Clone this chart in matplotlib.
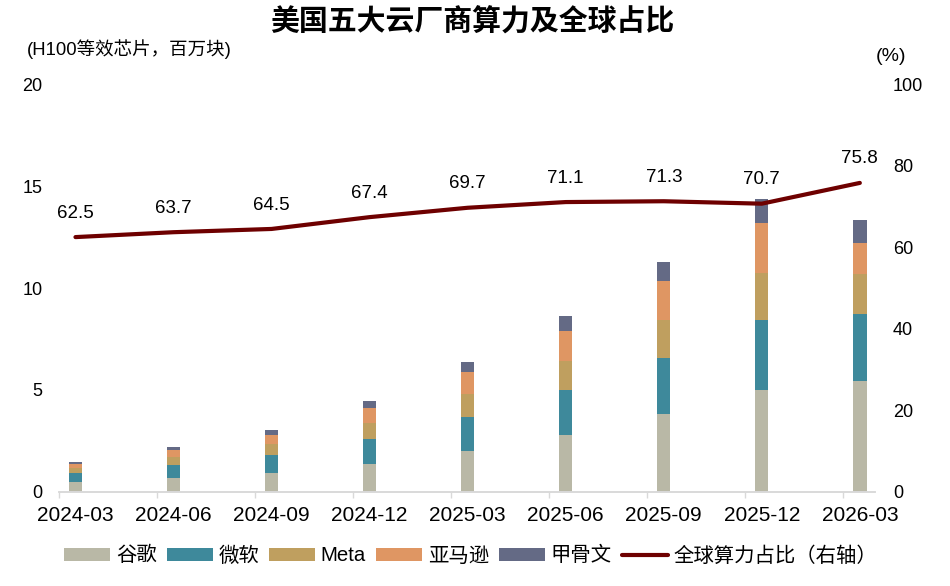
import matplotlib
matplotlib.use("Agg")
import matplotlib.pyplot as plt
import numpy as np

plt.rcParams['font.family'] = ['Liberation Sans', 'Noto Sans CJK SC']

# 数据（百万块 H100 等效芯片）
periods = ["2024-03", "2024-06", "2024-09", "2024-12", "2025-03",
           "2025-06", "2025-09", "2025-12", "2026-03"]
google = [0.48, 0.67, 0.94, 1.36, 1.99, 2.79, 3.81, 5.00, 5.44]
microsoft = [0.44, 0.64, 0.87, 1.23, 1.68, 2.18, 2.77, 3.41, 3.30]
meta = [0.25, 0.40, 0.54, 0.77, 1.12, 1.44, 1.83, 2.33, 1.97]
amazon = [0.19, 0.33, 0.44, 0.77, 1.11, 1.49, 1.95, 2.46, 1.51]
oracle = [0.12, 0.14, 0.24, 0.33, 0.49, 0.71, 0.94, 1.15, 1.11]
share = [62.5, 63.7, 64.5, 67.4, 69.7, 71.1, 71.3, 70.7, 75.8]

series_names = ["谷歌", "微软", "Meta", "亚马逊", "甲骨文"]
series_colors = ["#B9B8A6", "#3E899B", "#BF9F5F", "#DF9663", "#646A85"]
line_color = "#6E0000"


def make_chart():
    fig = plt.figure(figsize=(9.5, 5.86), dpi=100)
    ax = fig.add_axes([0.0621, 0.1609, 0.859, 0.6952])
    ax2 = ax.twinx()

    x = np.arange(len(periods))
    bottom = np.zeros(len(periods))
    handles = []
    for name, vals, col in zip(series_names,
                               [google, microsoft, meta, amazon, oracle],
                               series_colors):
        b = ax.bar(x, vals, width=0.136, bottom=bottom, color=col, label=name)
        bottom += np.array(vals)
        handles.append(b)

    ln, = ax2.plot(x, share, color=line_color, lw=3, solid_capstyle='round',
                   label="全球算力占比（右轴）")
    handles.append(ln)
    for xi, v in zip(x, share):
        ax2.annotate(f"{v:.1f}", (xi, v), xytext=(0, 14), textcoords='offset points',
                     ha='center', va='baseline', fontsize=13.5)

    ax.set_xlim(-0.163, 8.155)
    ax.set_ylim(0, 20)
    ax2.set_ylim(0, 100)
    ax.set_yticks([0, 5, 10, 15, 20])
    ax2.set_yticks([0, 20, 40, 60, 80, 100])

    ax.set_xticks(x)
    ax.set_xticklabels(periods, fontsize=15)
    ax.set_xticks(x - 0.168, minor=True)
    ax.tick_params(axis='x', which='major', length=0, pad=10)
    ax.tick_params(axis='x', which='minor', length=4.5, color="#D9D9D9", width=1)
    ax.tick_params(axis='y', length=0, pad=12, labelsize=13)
    ax2.tick_params(axis='y', length=0, pad=13, labelsize=13)

    for a in (ax, ax2):
        for s in ['top', 'left', 'right']:
            a.spines[s].set_visible(False)
        a.spines['bottom'].set_color("#D9D9D9")
        a.spines['bottom'].set_linewidth(1.2)

    fig.text(0.497, 0.962, "美国五大云厂商算力及全球占比", ha='center', va='center',
             fontsize=20.8, fontweight='bold')
    fig.text(0.028, 0.9155, "(H100等效芯片，百万块)", ha='left', va='center',
             fontsize=13.3)
    fig.text(0.938, 0.9036, "(%)", ha='center', va='center', fontsize=14)

    fig.legend(handles=handles, loc='center', bbox_to_anchor=(0.4955, 0.0517),
               ncol=6, frameon=False, handlelength=2.25,
               handleheight=0.57, handletextpad=0.28, columnspacing=0.49,
               prop={'size': 14.7})
    return fig


fig = make_chart()
fig.savefig("out.png", dpi=100)
